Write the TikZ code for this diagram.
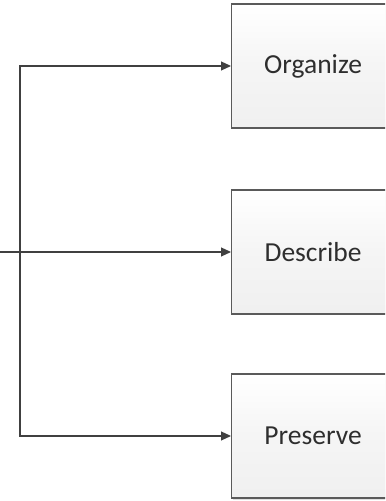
\documentclass[tikz,border=0pt]{standalone}
\usepackage{fontspec}
\setmainfont{Carlito}
\usetikzlibrary{arrows.meta,shadows}
\definecolor{linec}{HTML}{404040}
\definecolor{boxline}{HTML}{5A5A5A}
\tikzset{
  procbox/.style={draw=boxline, line width=1.2bp, top color=white, bottom color=black!6, middle color=black!4, minimum width=163bp, minimum height=124bp, inner sep=0pt, font=\fontsize{27.5bp}{32bp}\selectfont, text=black!82, drop shadow={shadow xshift=1.5bp, shadow yshift=-1.5bp, opacity=0.25}},
  conn/.style={draw=linec, line width=1.1bp, -{Triangle[length=10bp,width=9bp]}}
}
\begin{document}
\begin{tikzpicture}[x=1bp,y=1bp]
\useasboundingbox (0,0) rectangle (385,501);
\begin{scope}
\clip (0,0) rectangle (385,501);
\node[procbox, anchor=west] (org) at (231,435) {Organize};
\node[procbox, anchor=west] (des) at (231,249) {Describe};
\node[procbox, anchor=west] (pre) at (231,65) {Preserve};
\coordinate (in) at (0,249);
\coordinate (split) at (20,249);
\draw[conn] (in) -- (des.west);
\draw[conn] (split) |- (org.west);
\draw[conn] (split) |- (pre.west);
\end{scope}
\end{tikzpicture}
\end{document}
